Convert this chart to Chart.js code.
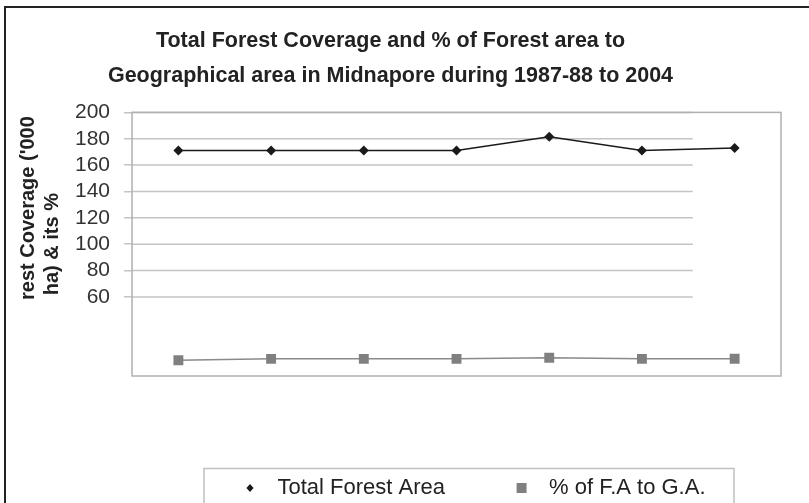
<!DOCTYPE html>
<html>
<head>
    <title>Total Forest Coverage - Midnapore</title>
    <style>
        html, body {
            margin: 0;
            padding: 0;
            background-color: #ffffff;
        }
        #wrap {
            width: 809px;
            height: 503px;
            position: relative;
        }
    </style>
</head>
<body>
    <div id="wrap">
        <canvas id="forest-chart"></canvas>
    </div>

    <script src="https://cdn.jsdelivr.net/npm/chart.js"></script>
    <script>
        // valores
        var periods = ['1987-88', '1989-90', '1991-92', '1993-94', '1995-96', '1997-98', '2004'];
        var forestArea = [171, 171, 171, 171, 181.5, 171, 173];
        var forestPct = [11.9, 13.0, 13.0, 13.0, 13.8, 13.0, 13.1];
        var yTicksShown = [200, 180, 160, 140, 120, 100, 80, 60];
        var titleLines = ['Total Forest Coverage and % of Forest area to',
                          'Geographical area in Midnapore during 1987-88 to 2004'];
        var yTitleLines = ['\u00a0\u00a0\u00a0\u00a0\u00a0\u00a0\u00a0\u00a0\u00a0\u00a0\u00a0\u00a0\u00a0rest Coverage (\'000',
                           'ha) & its %'];
        var seriesNames = ['Total Forest Area', '% of F.A to G.A.'];

        var FONT = "'Liberation Sans', Arial, sans-serif";
        var gridSpan = 0.864; // in the source the grid lines stop before the right edge

        // small legend icons
        function legendIcon(kind) {
            var c = document.createElement('canvas');
            c.width = 12;
            c.height = 12;
            var g = c.getContext('2d');
            if (kind === 'diamond') {
                g.fillStyle = '#1a1a1a';
                g.beginPath();
                g.moveTo(6, 2);
                g.lineTo(9.6, 6);
                g.lineTo(6, 10);
                g.lineTo(2.4, 6);
                g.closePath();
                g.fill();
            } else {
                g.fillStyle = '#808080';
                g.fillRect(1, 1, 10, 10);
            }
            return c;
        }
        var legendIcons = [legendIcon('diamond'), legendIcon('square')];

        var decorPlugin = {
            id: 'decor',
            afterLayout: function(chart) {
                // put the legend where the source has it
                var lg = chart.legend;
                lg.left = 173.5;
                lg.right = 800;
                lg.width = lg.right - lg.left;
                lg.top = 417;
                lg.bottom = chart.height;
                lg.height = lg.bottom - lg.top;
            },
            beforeDraw: function(chart) {
                var ctx = chart.ctx;
                ctx.save();
                ctx.fillStyle = '#ffffff';
                ctx.fillRect(0, 0, chart.width, chart.height);
                ctx.strokeStyle = '#222222';
                ctx.lineWidth = 2;
                ctx.beginPath();
                ctx.moveTo(5, chart.height);
                ctx.lineTo(5, 7);
                ctx.lineTo(chart.width, 7);
                ctx.stroke();
                ctx.restore();
            },
            beforeDatasetsDraw: function(chart) {
                var a = chart.chartArea;
                var y = chart.scales.y;
                var ctx = chart.ctx;
                ctx.save();
                ctx.strokeStyle = '#c4c4c4';
                ctx.lineWidth = 1.5;
                yTicksShown.forEach(function(v) {
                    var py = y.getPixelForValue(v);
                    ctx.beginPath();
                    ctx.moveTo(a.left, py);
                    ctx.lineTo(a.left + (a.right - a.left) * gridSpan, py);
                    ctx.stroke();
                });
                ctx.strokeStyle = '#b0b0b0';
                ctx.strokeRect(a.left, a.top, a.right - a.left, a.bottom - a.top);
                ctx.restore();
            },
            afterDraw: function(chart) {
                // legend frame (runs off the bottom like in the source)
                var ctx = chart.ctx;
                ctx.save();
                ctx.strokeStyle = '#c0c0c0';
                ctx.lineWidth = 1.5;
                ctx.strokeRect(204, 468.5, 530, 80);
                ctx.restore();
            }
        };

        var chartData = {
            labels: periods,
            datasets: [{
                label: seriesNames[0],
                data: forestArea,
                borderColor: '#1a1a1a',
                backgroundColor: '#1a1a1a',
                borderWidth: 1.5,
                pointStyle: 'rectRot',
                pointRadius: 5,
                pointBorderWidth: 0,
                tension: 0
            }, {
                label: seriesNames[1],
                data: forestPct,
                borderColor: '#8a8a8a',
                backgroundColor: '#808080',
                borderWidth: 1.5,
                pointStyle: 'rect',
                pointRadius: 7,
                pointBorderWidth: 0,
                tension: 0
            }]
        };

        var chartOptions = {
            responsive: true,
            maintainAspectRatio: false,
            animation: false,
            layout: {
                padding: { left: 0, right: 28, top: 0, bottom: 35 }
            },
            scales: {
                x: {
                    display: false,
                    offset: true
                },
                y: {
                    min: 0,
                    max: 200,
                    border: { display: false },
                    grid: {
                        drawOnChartArea: false,
                        tickLength: 8,
                        lineWidth: 1.5,
                        color: function(ctx) {
                            return ctx.tick && ctx.tick.value >= 60 ? '#c4c4c4' : 'rgba(0,0,0,0)';
                        }
                    },
                    ticks: {
                        stepSize: 20,
                        autoSkip: false,
                        padding: 14,
                        color: '#333333',
                        font: { family: FONT, size: 21 },
                        callback: function(value) {
                            return value >= 60 ? value : '';
                        }
                    },
                    title: {
                        display: true,
                        text: yTitleLines,
                        color: '#222222',
                        font: { family: FONT, size: 20, weight: 'bold', lineHeight: 1.2 },
                        padding: { top: 16, bottom: -3 }
                    }
                }
            },
            plugins: {
                title: {
                    display: true,
                    text: titleLines,
                    color: '#222222',
                    font: { family: FONT, size: 21.5, weight: 'bold', lineHeight: 1.63 },
                    padding: { top: 23.5, bottom: 18.8 }
                },
                legend: {
                    position: 'bottom',
                    align: 'start',
                    labels: {
                        color: '#222222',
                        font: { family: FONT, size: 22 },
                        usePointStyle: true,
                        pointStyleWidth: 33,
                        padding: 60,
                        generateLabels: function(chart) {
                            var items = Chart.defaults.plugins.legend.labels.generateLabels(chart);
                            items.forEach(function(it, i) {
                                it.pointStyle = legendIcons[i];
                            });
                            return items;
                        }
                    }
                },
                tooltip: { enabled: false }
            }
        };

        new Chart(document.getElementById('forest-chart'), {
            type: 'line',
            data: chartData,
            options: chartOptions,
            plugins: [decorPlugin]
        });
    </script>
</body>
</html>
